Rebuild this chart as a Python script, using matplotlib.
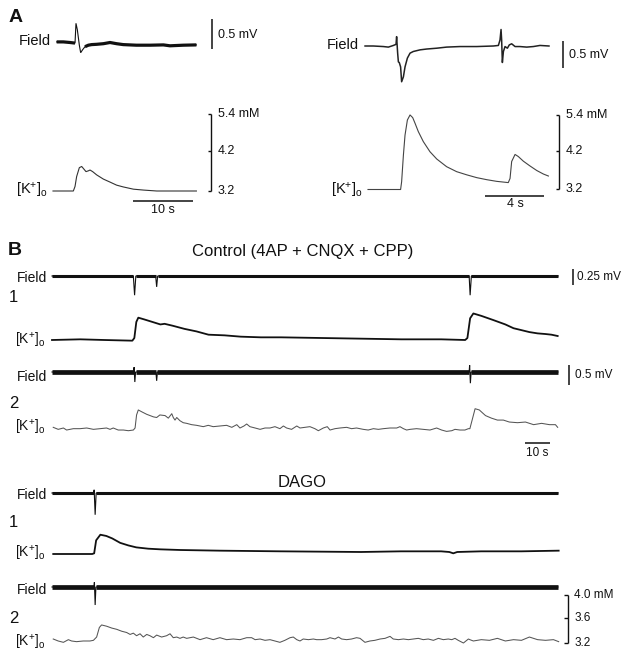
import numpy as np
import matplotlib
matplotlib.use("Agg")
import matplotlib.pyplot as plt

plt.rcParams['font.family'] = ['Liberation Sans', 'DejaVu Sans']
plt.rcParams['mathtext.fontset'] = 'custom'
plt.rcParams['mathtext.rm'] = 'Liberation Sans'

# ---------------- data (time in s, field in mV, [K+]o in mM) ----------------
# Panel A, left
a1_field_t = [0.61, 1.72, 2.83, 3.67, 3.83, 4.06, 4.39, 4.61, 4.94, 5.33, 5.89, 6.44, 7.28,
              8.39, 9.5, 10.6, 11.7, 13.9, 16.2, 18.4, 19.5, 20.6, 21.7, 23.9]
a1_field_mv = [0.01, 0.01, 0.0, -0.01, 0.32, 0.21, -0.045, -0.17, -0.12, -0.07, -0.045, -0.035,
               -0.03, -0.02, 0.0, -0.02, -0.035, -0.045, -0.045, -0.04, -0.055, -0.05, -0.045, -0.04]
a1_k_t = [0.0, 1.72, 3.39, 3.67, 3.94, 4.39, 4.78, 5.06, 5.5, 5.89, 6.17, 6.61, 7.28, 8.39,
          9.5, 10.6, 11.7, 13.4, 15.1, 17.3, 20.6, 23.9]
a1_k_mm = [3.20, 3.20, 3.20, 3.30, 3.53, 3.75, 3.78, 3.73, 3.65, 3.67, 3.69, 3.65, 3.57, 3.47,
           3.40, 3.33, 3.29, 3.24, 3.22, 3.20, 3.20, 3.20]

# Panel A, right
a2_field_t = [-0.2, 0.36, 1.04, 1.38, 1.72, 1.90, 1.94, 2.01, 2.06, 2.12, 2.21, 2.28, 2.40, 2.51,
              2.67, 2.85, 3.07, 3.53, 3.98, 4.66, 5.33, 6.24, 7.37, 8.5, 8.84, 8.95, 9.02, 9.06,
              9.11, 9.18, 9.29, 9.45, 9.58, 9.74, 9.97, 10.3, 10.76, 11.21, 11.66, 12.27]
a2_field_mv = [0, 0, -0.01, -0.02, 0.01, 0.03, 0.17, -0.13, -0.29, -0.30, -0.38, -0.65, -0.56,
               -0.38, -0.22, -0.13, -0.10, -0.07, -0.055, -0.04, -0.02, -0.01, -0.01, 0, 0.01,
               0.11, 0.30, 0.11, -0.30, -0.10, -0.01, -0.04, 0.02, 0.04, -0.01, -0.01, -0.02,
               -0.01, 0.01, 0]
a2_k_t = [0.0, 0.81, 1.72, 2.21, 2.28, 2.40, 2.51, 2.67, 2.85, 3.03, 3.19, 3.41, 3.75, 4.20,
          4.66, 5.33, 6.01, 6.69, 7.37, 8.05, 8.72, 9.51, 9.63, 9.74, 9.97, 10.19, 10.53, 10.98,
          11.44, 11.89, 12.23]
a2_k_mm = [3.20, 3.20, 3.20, 3.20, 3.38, 4.08, 4.70, 5.23, 5.42, 5.32, 5.11, 4.82, 4.49, 4.18,
           3.97, 3.76, 3.63, 3.55, 3.48, 3.43, 3.39, 3.36, 3.46, 3.90, 4.10, 4.04, 3.91, 3.78,
           3.66, 3.57, 3.52]

# Panel B, control
b1_field_t = [0, 32.8, 33.3, 33.8, 41.8, 42.2, 42.6, 168.2, 168.6, 169.1, 204]
b1_field_mv = [0, 0, -0.30, 0, 0, -0.17, 0, 0, -0.30, 0, 0]
b1_k_t = [0, 11.4, 21.1, 32.4, 33.2, 34.0, 34.8, 37.3, 40.5, 42.9, 43.7, 45.4, 48.6, 53.4, 58.3,
          63.1, 69.6, 76.1, 84.2, 92.3, 108.4, 124.6, 140.8, 156.9, 166.6, 167.5, 168.6, 169.9,
          173.1, 178.0, 182.8, 186.1, 189.3, 192.5, 195.8, 199.0, 201.4, 203.9]
b1_k_mm = [3.20, 3.21, 3.20, 3.19, 3.23, 3.48, 3.55, 3.52, 3.48, 3.45, 3.44, 3.45, 3.42, 3.37,
           3.33, 3.28, 3.27, 3.25, 3.24, 3.24, 3.23, 3.22, 3.21, 3.21, 3.20, 3.23, 3.54, 3.62,
           3.58, 3.51, 3.44, 3.38, 3.35, 3.32, 3.30, 3.29, 3.28, 3.26]
b2_field_t = [0, 32.9, 33.1, 33.4, 33.7, 41.9, 42.2, 42.5, 168.2, 168.4, 168.7, 169.0, 204]
b2_field_mv = [0, 0, 0.12, -0.25, 0, 0, -0.22, 0, 0, 0.17, -0.28, 0, 0]
b2_k_t = [0.5, 2.5, 4.6, 5.9, 8.6, 11.3, 14.0, 16.7, 19.4, 22.0,
          23.4, 24.7, 26.7, 28.8, 30.8, 32.8, 33.5, 34.1, 34.8, 36.2,
          38.2, 40.9, 42.2, 43.5, 45.6, 46.9, 48.3, 48.9, 49.6, 50.3,
          51.6, 52.9, 54.3, 56.3, 58.3, 61.0, 63.0, 65.0, 67.7, 70.4,
          72.5, 74.5, 75.8, 77.4, 78.5, 79.8, 81.9, 83.9, 85.9, 87.9,
          89.9, 91.9, 93.3, 94.6, 96.6, 98.7, 100.0, 102.0, 104.0, 106.0,
          107.4, 109.4, 111.0, 112.1, 114.1, 116.1, 118.8, 120.8, 122.8, 125.5,
          127.5, 129.6, 131.6, 133.6, 136.3, 139.0, 140.3, 141.7, 143.0, 144.4,
          147.0, 149.7, 152.4, 155.1, 157.1, 159.1, 161.2, 162.5, 164.5, 166.5,
          167.9, 168.5, 170.6, 172.3, 174.8, 177.2, 179.6, 182.0, 184.4, 187.7,
          190.9, 194.2, 197.4, 200.6, 203.0, 203.9]
b2_k_mm = [3.21, 3.18, 3.20, 3.17, 3.19, 3.19, 3.20, 3.18, 3.19, 3.20,
           3.18, 3.20, 3.17, 3.17, 3.16, 3.17, 3.20, 3.40, 3.48, 3.45,
           3.41, 3.37, 3.36, 3.40, 3.39, 3.35, 3.42, 3.36, 3.32, 3.36,
           3.31, 3.28, 3.27, 3.25, 3.24, 3.22, 3.24, 3.22, 3.23, 3.24,
           3.21, 3.25, 3.20, 3.23, 3.26, 3.22, 3.20, 3.18, 3.20, 3.20,
           3.22, 3.19, 3.23, 3.20, 3.18, 3.23, 3.20, 3.21, 3.22, 3.19,
           3.16, 3.20, 3.22, 3.17, 3.19, 3.20, 3.21, 3.19, 3.20, 3.18,
           3.17, 3.19, 3.18, 3.19, 3.20, 3.20, 3.22, 3.19, 3.17, 3.18,
           3.19, 3.18, 3.17, 3.20, 3.17, 3.15, 3.16, 3.18, 3.17, 3.17,
           3.19, 3.19, 3.50, 3.48, 3.39, 3.35, 3.32, 3.32, 3.29, 3.28,
           3.29, 3.25, 3.27, 3.25, 3.25, 3.21]

# Panel B, DAGO
d1_field_t = [0, 16.8, 17.0, 17.4, 17.8, 204]
d1_field_mv = [0, 0, 0.05, -0.34, 0, 0]
d1_k_t = [0.5, 11.4, 16.2, 17.0, 17.8, 19.5, 21.9, 24.3, 27.5, 30.8, 34.0, 38.8, 43.7, 51.8,
          67.6, 92.3, 124.6, 140.8, 156.9, 160.2, 161.8, 163.4, 173.1, 189.3, 204.3]
d1_k_mm = [3.20, 3.20, 3.20, 3.21, 3.41, 3.50, 3.48, 3.44, 3.37, 3.33, 3.30, 3.28, 3.27, 3.26,
           3.25, 3.24, 3.23, 3.24, 3.24, 3.23, 3.21, 3.23, 3.24, 3.24, 3.25]
d2_field_t = [0, 16.9, 17.1, 17.4, 17.7, 204]
d2_field_mv = [0, 0, 0.12, -0.45, 0, 0]
d2_k_t = [0.5, 2.5, 4.6, 6.6, 7.9, 9.9, 12.6, 15.3, 16.7, 18.0,
          19.1, 20.0, 22.0, 24.1, 26.1, 28.1, 30.1, 31.5, 32.8, 34.1,
          35.5, 36.8, 38.2, 39.5, 40.9, 42.2, 44.2, 46.2, 47.6, 48.9,
          50.3, 51.6, 52.9, 54.3, 57.0, 59.7, 62.3, 65.0, 67.7, 70.4,
          73.1, 75.8, 78.5, 80.5, 81.9, 83.9, 85.9, 87.9, 89.9, 91.9,
          93.9, 96.0, 97.3, 98.7, 100.0, 101.3, 103.4, 105.4, 106.7, 108.7,
          110.8, 112.1, 114.1, 115.5, 116.8, 118.8, 120.8, 122.8, 124.2, 126.2,
          128.2, 130.2, 132.3, 134.3, 136.3, 137.6, 139.7, 141.7, 143.7, 145.7,
          147.7, 149.7, 151.7, 153.8, 155.8, 157.8, 159.8, 161.2, 162.5, 163.8,
          165.9, 167.9, 168.5, 169.9, 173.1, 176.4, 179.6, 182.8, 186.1, 189.3,
          192.5, 195.8, 199.0, 202.2, 204.3]
d2_k_mm = [3.26, 3.23, 3.21, 3.25, 3.23, 3.22, 3.23, 3.23, 3.24, 3.29,
           3.44, 3.48, 3.46, 3.43, 3.41, 3.38, 3.36, 3.33, 3.35, 3.31,
           3.34, 3.29, 3.33, 3.31, 3.28, 3.32, 3.29, 3.31, 3.34, 3.28,
           3.29, 3.27, 3.29, 3.27, 3.29, 3.25, 3.28, 3.25, 3.28, 3.25,
           3.26, 3.25, 3.28, 3.28, 3.25, 3.26, 3.24, 3.25, 3.23, 3.21,
           3.24, 3.28, 3.29, 3.25, 3.23, 3.26, 3.25, 3.26, 3.25, 3.25,
           3.26, 3.28, 3.26, 3.29, 3.26, 3.25, 3.26, 3.28, 3.27, 3.21,
           3.23, 3.24, 3.26, 3.27, 3.30, 3.26, 3.25, 3.26, 3.25, 3.26,
           3.27, 3.25, 3.26, 3.24, 3.27, 3.25, 3.26, 3.25, 3.27, 3.24,
           3.20, 3.26, 3.25, 3.23, 3.25, 3.24, 3.27, 3.23, 3.25, 3.24,
           3.29, 3.25, 3.24, 3.25, 3.22]

# scale-bar values
kA_ticks = [3.2, 4.2, 5.4]
kB_ticks = [3.2, 3.6, 4.0]

# ---------------- figure ----------------
W, H = 629, 657
fig = plt.figure(figsize=(W / 100, H / 100), dpi=100)
fig.patch.set_facecolor('white')
INK = '#111111'
KLAB = r'$\mathregular{[K^{+}]_{o}}$'


def txt(x, y, s, size, ha='left', va='baseline', weight='normal'):
    fig.text(x / W, 1 - y / H, s, fontsize=size, ha=ha, va=va, fontweight=weight, color=INK)


def trace_ax(box, x0, pps, y0, v0, ppu, log=False):
    l, t, r, b = box
    ax = fig.add_axes([l / W, 1 - b / H, (r - l) / W, (b - t) / H])
    ax.set_xlim((l - x0) / pps, (r - x0) / pps)
    if log:
        ax.set_yscale('log')
        lv = np.log10(v0)
        ax.set_ylim(10 ** (lv - (b - y0) / ppu), 10 ** (lv + (y0 - t) / ppu))
    else:
        ax.set_ylim(v0 - (b - y0) / ppu, v0 + (y0 - t) / ppu)
    ax.axis('off')
    return ax


def px2data(ax, x, y):
    return ax.transData.inverted().transform((x, H - y))


def field(ax, t, v, lw_thick, thr, color=INK):
    t = np.asarray(t, float)
    v = np.asarray(v, float)
    ax.plot(t, v, color=color, lw=0.8, clip_on=False, solid_joinstyle='miter')
    thick = np.where(np.abs(v) <= thr, v, np.nan)
    ax.plot(t, thick, color=color, lw=lw_thick, clip_on=False, solid_capstyle='butt')


def vbar(ax, x, ybot, length, lw=1.1):
    t, v = px2data(ax, x, ybot)
    ax.plot([t, t], [v, v + length], color=INK, lw=lw, clip_on=False, solid_capstyle='butt')


def hbar(ax, x, y, length, lw=1.1):
    t, v = px2data(ax, x, y)
    ax.plot([t, t + length], [v, v], color=INK, lw=lw, clip_on=False, solid_capstyle='butt')


def mm_bar(ax, x, ticks, labels, pps, size):
    t = px2data(ax, x, 0)[0]
    ax.plot([t, t], [ticks[0], ticks[-1]], color=INK, lw=1.0, clip_on=False, solid_capstyle='butt')
    for v, lab in zip(ticks, labels):
        ax.plot([t - 3.5 / pps, t], [v, v], color=INK, lw=1.0, clip_on=False, solid_capstyle='butt')
        ax.text(t + 6.5 / pps, v, lab, fontsize=size, va='center', ha='left', color=INK)


# ----- Panel A left -----
axA1f = trace_ax((40, 5, 270, 70), 53, 6.0, 42.5, 0.0, 60.0)
field(axA1f, a1_field_t, a1_field_mv, 2.3, 0.1)
vbar(axA1f, 212, 48.5, 0.5)
txt(218, 38, '0.5 mV', 9)

axA1k = trace_ax((40, 95, 270, 220), 53, 6.0, 191, 3.2, 338.9, log=True)
axA1k.plot(a1_k_t, a1_k_mm, color='#333333', lw=0.8, clip_on=False)
mm_bar(axA1k, 211, kA_ticks, ['3.2', '4.2', '5.4 mM'], 6.0, 9)
hbar(axA1k, 133, 201, 10)
txt(163, 213, '10 s', 9, ha='center')

# ----- Panel A right -----
axA2f = trace_ax((355, 10, 625, 95), 368, 14.75, 46, 0.0, 55.0)
axA2f.plot(a2_field_t, a2_field_mv, color='#222222', lw=1.1, clip_on=False)
vbar(axA2f, 563, 68.5, 0.5)
txt(569, 58, '0.5 mV', 9)

axA2k = trace_ax((355, 100, 625, 215), 368, 14.75, 189.5, 3.2, 325.7, log=True)
axA2k.plot(a2_k_t, a2_k_mm, color='#444444', lw=0.8, clip_on=False)
mm_bar(axA2k, 559, kA_ticks, ['3.2', '4.2', '5.4 mM'], 14.75, 9)
hbar(axA2k, 485, 196, 4)
txt(515, 207, '4 s', 9, ha='center')

# ----- Panel B control -----
PPS = 2.48
b1f = trace_ax((45, 258, 629, 300), 52, PPS, 276, 0.0, 64.0)
field(b1f, b1_field_t, b1_field_mv, 2.2, 0.03)
vbar(b1f, 573, 284.5, 0.25)
txt(577, 277, '0.25 mV', 8.5, va='center')

b1k = trace_ax((45, 303, 629, 352), 52, PPS, 340, 3.2, 495.4, log=True)
b1k.plot(b1_k_t, b1_k_mm, color=INK, lw=1.3, clip_on=False)

b2f = trace_ax((45, 355, 629, 392), 52, PPS, 372, 0.0, 40.0)
field(b2f, b2_field_t, b2_field_mv, 3.4, 0.03)
vbar(b2f, 569, 384.5, 0.5)
txt(575, 375, '0.5 mV', 8.5, va='center')

b2k = trace_ax((45, 395, 629, 460), 52, PPS, 428, 3.2, 495.4, log=True)
b2k.plot(b2_k_t, b2_k_mm, color='#555555', lw=0.75, clip_on=False)
hbar(b2k, 525, 443, 10)
txt(537, 453, '10 s', 8.5, ha='center', va='center')

# ----- Panel B DAGO -----
d1f = trace_ax((45, 478, 629, 520), 52, PPS, 493, 0.0, 64.0)
field(d1f, d1_field_t, d1_field_mv, 2.2, 0.03)

d1k = trace_ax((45, 525, 629, 565), 52, PPS, 554, 3.2, 495.4, log=True)
d1k.plot(d1_k_t, d1_k_mm, color=INK, lw=1.3, clip_on=False)

d2f = trace_ax((45, 572, 629, 612), 52, PPS, 587, 0.0, 40.0)
field(d2f, d2_field_t, d2_field_mv, 3.4, 0.03)

d2k = trace_ax((45, 590, 629, 657), 52, PPS, 643, 3.2, 495.4, log=True)
d2k.plot(d2_k_t, d2_k_mm, color='#555555', lw=0.75, clip_on=False)
mm_bar(d2k, 567.6, kB_ticks, ['3.2', '3.6', '4.0 mM'], PPS, 8.5)

# ----- labels -----
txt(9, 22, 'A', 14, weight='bold')
txt(51, 45, 'Field', 10.5, ha='right')
txt(48, 195, KLAB, 10.5, ha='right')
txt(359, 49, 'Field', 10.5, ha='right')
txt(363, 195, KLAB, 10.5, ha='right')

txt(8, 255, 'B', 14, weight='bold')
txt(303, 256, 'Control (4AP + CNQX + CPP)', 12, ha='center')
txt(47, 282, 'Field', 10, ha='right')
txt(9, 302, '1', 12)
txt(45, 345, KLAB, 10, ha='right')
txt(47, 381, 'Field', 10, ha='right')
txt(9, 408, '2', 12)
txt(45, 432, KLAB, 10, ha='right')

txt(302, 487, 'DAGO', 12, ha='center')
txt(47, 499, 'Field', 10, ha='right')
txt(9, 527, '1', 12)
txt(45, 558, KLAB, 10, ha='right')
txt(47, 594, 'Field', 10, ha='right')
txt(9, 623, '2', 12)
txt(45, 647, KLAB, 10, ha='right')

fig.savefig('out.png', dpi=100, facecolor='white')
